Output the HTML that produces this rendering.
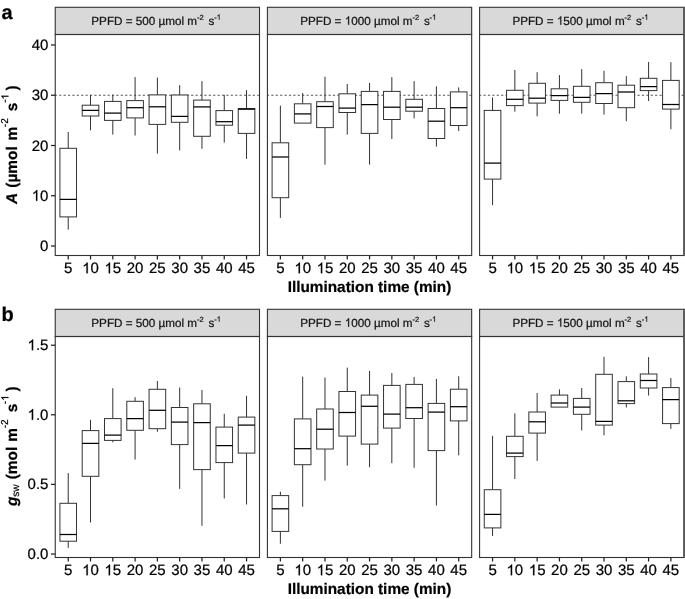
<!DOCTYPE html><html><head><meta charset="utf-8"><style>html,body{margin:0;padding:0;background:#fff;}svg{display:block;will-change:transform;}text{font-family:"Liberation Sans",sans-serif;white-space:pre;text-rendering:geometricPrecision;stroke:currentColor;stroke-width:0.22px;}</style></head><body>
<svg width="685" height="599" viewBox="0 0 685 599">
<rect x="0" y="0" width="685" height="599" fill="#fff"/>
<rect x="55.25" y="7.3" width="204.25" height="27.2" fill="#d9d9d9" stroke="#333333" stroke-width="1.1"/>
<text x="91.3" y="24.7" font-size="11.7" fill="#1a1a1a">PPFD = 500 µmol m</text>
<text x="196.99" y="19.7" font-size="7.5" fill="#1a1a1a">-2</text>
<text x="208.5" y="24.7" font-size="11.7" fill="#1a1a1a">s</text>
<text x="214.19" y="19.7" font-size="7.5" fill="#1a1a1a">- </text><path d="M763 0L583 0L583 1147Q518 1085 412.5 1023Q307 961 223 930L223 1104Q374 1175 486.5 1274.5Q599 1374 646 1466L763 1466Z" transform="translate(216.69,19.7) scale(0.003662,-0.003662)" fill="#1a1a1a" stroke="#1a1a1a" stroke-width="60.07"/>
<line x1="55.25" y1="95.2" x2="259.5" y2="95.2" stroke="#555" stroke-width="1.1" stroke-dasharray="2.2 2.2" stroke-dashoffset="0.5"/>
<line x1="68.22" y1="132" x2="68.22" y2="148.3" stroke="#333333" stroke-width="1"/>
<line x1="68.22" y1="216.9" x2="68.22" y2="229.7" stroke="#333333" stroke-width="1"/>
<rect x="59.92" y="148.3" width="16.6" height="68.6" fill="#fff" stroke="#333333" stroke-width="1"/>
<line x1="59.92" y1="199.4" x2="76.52" y2="199.4" stroke="#000" stroke-width="1.25"/>
<line x1="90.51" y1="94.9" x2="90.51" y2="105.2" stroke="#333333" stroke-width="1"/>
<line x1="90.51" y1="116" x2="90.51" y2="130.3" stroke="#333333" stroke-width="1"/>
<rect x="82.21" y="105.2" width="16.6" height="10.8" fill="#fff" stroke="#333333" stroke-width="1"/>
<line x1="82.21" y1="110.4" x2="98.81" y2="110.4" stroke="#000" stroke-width="1.25"/>
<line x1="112.8" y1="94.6" x2="112.8" y2="101.4" stroke="#333333" stroke-width="1"/>
<line x1="112.8" y1="120.4" x2="112.8" y2="134.6" stroke="#333333" stroke-width="1"/>
<rect x="104.5" y="101.4" width="16.6" height="19" fill="#fff" stroke="#333333" stroke-width="1"/>
<line x1="104.5" y1="113.1" x2="121.1" y2="113.1" stroke="#000" stroke-width="1.25"/>
<line x1="135.09" y1="77.1" x2="135.09" y2="100.6" stroke="#333333" stroke-width="1"/>
<line x1="135.09" y1="117.9" x2="135.09" y2="135.5" stroke="#333333" stroke-width="1"/>
<rect x="126.79" y="100.6" width="16.6" height="17.3" fill="#fff" stroke="#333333" stroke-width="1"/>
<line x1="126.79" y1="107.7" x2="143.39" y2="107.7" stroke="#000" stroke-width="1.25"/>
<line x1="157.38" y1="77.6" x2="157.38" y2="94.9" stroke="#333333" stroke-width="1"/>
<line x1="157.38" y1="124.4" x2="157.38" y2="153.6" stroke="#333333" stroke-width="1"/>
<rect x="149.08" y="94.9" width="16.6" height="29.5" fill="#fff" stroke="#333333" stroke-width="1"/>
<line x1="149.08" y1="106.8" x2="165.68" y2="106.8" stroke="#000" stroke-width="1.25"/>
<line x1="179.67" y1="85.1" x2="179.67" y2="95" stroke="#333333" stroke-width="1"/>
<line x1="179.67" y1="122.3" x2="179.67" y2="150.4" stroke="#333333" stroke-width="1"/>
<rect x="171.37" y="95" width="16.6" height="27.3" fill="#fff" stroke="#333333" stroke-width="1"/>
<line x1="171.37" y1="116.4" x2="187.97" y2="116.4" stroke="#000" stroke-width="1.25"/>
<line x1="201.96" y1="81.1" x2="201.96" y2="100.1" stroke="#333333" stroke-width="1"/>
<line x1="201.96" y1="136.3" x2="201.96" y2="148.8" stroke="#333333" stroke-width="1"/>
<rect x="193.66" y="100.1" width="16.6" height="36.2" fill="#fff" stroke="#333333" stroke-width="1"/>
<line x1="193.66" y1="106.9" x2="210.26" y2="106.9" stroke="#000" stroke-width="1.25"/>
<line x1="224.25" y1="94.9" x2="224.25" y2="110.6" stroke="#333333" stroke-width="1"/>
<line x1="224.25" y1="125.2" x2="224.25" y2="142.6" stroke="#333333" stroke-width="1"/>
<rect x="215.95" y="110.6" width="16.6" height="14.6" fill="#fff" stroke="#333333" stroke-width="1"/>
<line x1="215.95" y1="121.7" x2="232.55" y2="121.7" stroke="#000" stroke-width="1.25"/>
<line x1="246.54" y1="90.1" x2="246.54" y2="108.5" stroke="#333333" stroke-width="1"/>
<line x1="246.54" y1="133.4" x2="246.54" y2="158.9" stroke="#333333" stroke-width="1"/>
<rect x="238.24" y="108.5" width="16.6" height="24.9" fill="#fff" stroke="#333333" stroke-width="1"/>
<line x1="238.24" y1="109.2" x2="254.84" y2="109.2" stroke="#000" stroke-width="1.25"/>
<rect x="55.25" y="34.5" width="204.25" height="221" fill="none" stroke="#333333" stroke-width="1.1"/>
<line x1="68.22" y1="255.5" x2="68.22" y2="259.5" stroke="#222" stroke-width="1.25"/>
<text x="64.05" y="273.3" font-size="15" fill="#000">5</text>
<line x1="90.51" y1="255.5" x2="90.51" y2="259.5" stroke="#222" stroke-width="1.25"/>
<text x="82.17" y="273.3" font-size="15" fill="#000"> 0</text><path d="M763 0L583 0L583 1147Q518 1085 412.5 1023Q307 961 223 930L223 1104Q374 1175 486.5 1274.5Q599 1374 646 1466L763 1466Z" transform="translate(82.17,273.3) scale(0.007324,-0.007324)" fill="#000" stroke="#000" stroke-width="30.04"/>
<line x1="112.8" y1="255.5" x2="112.8" y2="259.5" stroke="#222" stroke-width="1.25"/>
<text x="104.46" y="273.3" font-size="15" fill="#000"> 5</text><path d="M763 0L583 0L583 1147Q518 1085 412.5 1023Q307 961 223 930L223 1104Q374 1175 486.5 1274.5Q599 1374 646 1466L763 1466Z" transform="translate(104.46,273.3) scale(0.007324,-0.007324)" fill="#000" stroke="#000" stroke-width="30.04"/>
<line x1="135.09" y1="255.5" x2="135.09" y2="259.5" stroke="#222" stroke-width="1.25"/>
<text x="126.75" y="273.3" font-size="15" fill="#000">20</text>
<line x1="157.38" y1="255.5" x2="157.38" y2="259.5" stroke="#222" stroke-width="1.25"/>
<text x="149.04" y="273.3" font-size="15" fill="#000">25</text>
<line x1="179.67" y1="255.5" x2="179.67" y2="259.5" stroke="#222" stroke-width="1.25"/>
<text x="171.33" y="273.3" font-size="15" fill="#000">30</text>
<line x1="201.96" y1="255.5" x2="201.96" y2="259.5" stroke="#222" stroke-width="1.25"/>
<text x="193.62" y="273.3" font-size="15" fill="#000">35</text>
<line x1="224.25" y1="255.5" x2="224.25" y2="259.5" stroke="#222" stroke-width="1.25"/>
<text x="215.91" y="273.3" font-size="15" fill="#000">40</text>
<line x1="246.54" y1="255.5" x2="246.54" y2="259.5" stroke="#222" stroke-width="1.25"/>
<text x="238.2" y="273.3" font-size="15" fill="#000">45</text>
<rect x="267.42" y="7.3" width="204.25" height="27.2" fill="#d9d9d9" stroke="#333333" stroke-width="1.1"/>
<text x="300.21" y="24.7" font-size="11.7" fill="#1a1a1a">PPFD =  000 µmol m</text><path d="M763 0L583 0L583 1147Q518 1085 412.5 1023Q307 961 223 930L223 1104Q374 1175 486.5 1274.5Q599 1374 646 1466L763 1466Z" transform="translate(344.75,24.7) scale(0.005713,-0.005713)" fill="#1a1a1a" stroke="#1a1a1a" stroke-width="38.51"/>
<text x="412.41" y="19.7" font-size="7.5" fill="#1a1a1a">-2</text>
<text x="423.92" y="24.7" font-size="11.7" fill="#1a1a1a">s</text>
<text x="429.61" y="19.7" font-size="7.5" fill="#1a1a1a">- </text><path d="M763 0L583 0L583 1147Q518 1085 412.5 1023Q307 961 223 930L223 1104Q374 1175 486.5 1274.5Q599 1374 646 1466L763 1466Z" transform="translate(432.11,19.7) scale(0.003662,-0.003662)" fill="#1a1a1a" stroke="#1a1a1a" stroke-width="60.07"/>
<line x1="267.42" y1="95.2" x2="471.67" y2="95.2" stroke="#555" stroke-width="1.1" stroke-dasharray="2.2 2.2" stroke-dashoffset="0.5"/>
<line x1="280.39" y1="105.6" x2="280.39" y2="142.8" stroke="#333333" stroke-width="1"/>
<line x1="280.39" y1="197.7" x2="280.39" y2="217.9" stroke="#333333" stroke-width="1"/>
<rect x="272.09" y="142.8" width="16.6" height="54.9" fill="#fff" stroke="#333333" stroke-width="1"/>
<line x1="272.09" y1="157" x2="288.69" y2="157" stroke="#000" stroke-width="1.25"/>
<line x1="302.68" y1="93" x2="302.68" y2="103.8" stroke="#333333" stroke-width="1"/>
<line x1="302.68" y1="123.1" x2="302.68" y2="123.1" stroke="#333333" stroke-width="1"/>
<rect x="294.38" y="103.8" width="16.6" height="19.3" fill="#fff" stroke="#333333" stroke-width="1"/>
<line x1="294.38" y1="113.9" x2="310.98" y2="113.9" stroke="#000" stroke-width="1.25"/>
<line x1="324.97" y1="76.7" x2="324.97" y2="101.7" stroke="#333333" stroke-width="1"/>
<line x1="324.97" y1="127.6" x2="324.97" y2="164.6" stroke="#333333" stroke-width="1"/>
<rect x="316.67" y="101.7" width="16.6" height="25.9" fill="#fff" stroke="#333333" stroke-width="1"/>
<line x1="316.67" y1="106.5" x2="333.27" y2="106.5" stroke="#000" stroke-width="1.25"/>
<line x1="347.26" y1="84" x2="347.26" y2="93.8" stroke="#333333" stroke-width="1"/>
<line x1="347.26" y1="112.5" x2="347.26" y2="134.6" stroke="#333333" stroke-width="1"/>
<rect x="338.96" y="93.8" width="16.6" height="18.7" fill="#fff" stroke="#333333" stroke-width="1"/>
<line x1="338.96" y1="108.1" x2="355.56" y2="108.1" stroke="#000" stroke-width="1.25"/>
<line x1="369.55" y1="83" x2="369.55" y2="91.4" stroke="#333333" stroke-width="1"/>
<line x1="369.55" y1="133.4" x2="369.55" y2="164.6" stroke="#333333" stroke-width="1"/>
<rect x="361.25" y="91.4" width="16.6" height="42" fill="#fff" stroke="#333333" stroke-width="1"/>
<line x1="361.25" y1="104.6" x2="377.85" y2="104.6" stroke="#000" stroke-width="1.25"/>
<line x1="391.84" y1="77.1" x2="391.84" y2="91.4" stroke="#333333" stroke-width="1"/>
<line x1="391.84" y1="119.5" x2="391.84" y2="139" stroke="#333333" stroke-width="1"/>
<rect x="383.54" y="91.4" width="16.6" height="28.1" fill="#fff" stroke="#333333" stroke-width="1"/>
<line x1="383.54" y1="107.2" x2="400.14" y2="107.2" stroke="#000" stroke-width="1.25"/>
<line x1="414.13" y1="81.1" x2="414.13" y2="99.3" stroke="#333333" stroke-width="1"/>
<line x1="414.13" y1="111.2" x2="414.13" y2="118.3" stroke="#333333" stroke-width="1"/>
<rect x="405.83" y="99.3" width="16.6" height="11.9" fill="#fff" stroke="#333333" stroke-width="1"/>
<line x1="405.83" y1="107.2" x2="422.43" y2="107.2" stroke="#000" stroke-width="1.25"/>
<line x1="436.42" y1="86.3" x2="436.42" y2="108.5" stroke="#333333" stroke-width="1"/>
<line x1="436.42" y1="138.5" x2="436.42" y2="146.6" stroke="#333333" stroke-width="1"/>
<rect x="428.12" y="108.5" width="16.6" height="30" fill="#fff" stroke="#333333" stroke-width="1"/>
<line x1="428.12" y1="121.2" x2="444.72" y2="121.2" stroke="#000" stroke-width="1.25"/>
<line x1="458.71" y1="87.4" x2="458.71" y2="91.9" stroke="#333333" stroke-width="1"/>
<line x1="458.71" y1="125.5" x2="458.71" y2="131" stroke="#333333" stroke-width="1"/>
<rect x="450.41" y="91.9" width="16.6" height="33.6" fill="#fff" stroke="#333333" stroke-width="1"/>
<line x1="450.41" y1="107.7" x2="467.01" y2="107.7" stroke="#000" stroke-width="1.25"/>
<rect x="267.42" y="34.5" width="204.25" height="221" fill="none" stroke="#333333" stroke-width="1.1"/>
<line x1="280.39" y1="255.5" x2="280.39" y2="259.5" stroke="#222" stroke-width="1.25"/>
<text x="276.22" y="273.3" font-size="15" fill="#000">5</text>
<line x1="302.68" y1="255.5" x2="302.68" y2="259.5" stroke="#222" stroke-width="1.25"/>
<text x="294.34" y="273.3" font-size="15" fill="#000"> 0</text><path d="M763 0L583 0L583 1147Q518 1085 412.5 1023Q307 961 223 930L223 1104Q374 1175 486.5 1274.5Q599 1374 646 1466L763 1466Z" transform="translate(294.34,273.3) scale(0.007324,-0.007324)" fill="#000" stroke="#000" stroke-width="30.04"/>
<line x1="324.97" y1="255.5" x2="324.97" y2="259.5" stroke="#222" stroke-width="1.25"/>
<text x="316.63" y="273.3" font-size="15" fill="#000"> 5</text><path d="M763 0L583 0L583 1147Q518 1085 412.5 1023Q307 961 223 930L223 1104Q374 1175 486.5 1274.5Q599 1374 646 1466L763 1466Z" transform="translate(316.63,273.3) scale(0.007324,-0.007324)" fill="#000" stroke="#000" stroke-width="30.04"/>
<line x1="347.26" y1="255.5" x2="347.26" y2="259.5" stroke="#222" stroke-width="1.25"/>
<text x="338.92" y="273.3" font-size="15" fill="#000">20</text>
<line x1="369.55" y1="255.5" x2="369.55" y2="259.5" stroke="#222" stroke-width="1.25"/>
<text x="361.21" y="273.3" font-size="15" fill="#000">25</text>
<line x1="391.84" y1="255.5" x2="391.84" y2="259.5" stroke="#222" stroke-width="1.25"/>
<text x="383.5" y="273.3" font-size="15" fill="#000">30</text>
<line x1="414.13" y1="255.5" x2="414.13" y2="259.5" stroke="#222" stroke-width="1.25"/>
<text x="405.79" y="273.3" font-size="15" fill="#000">35</text>
<line x1="436.42" y1="255.5" x2="436.42" y2="259.5" stroke="#222" stroke-width="1.25"/>
<text x="428.08" y="273.3" font-size="15" fill="#000">40</text>
<line x1="458.71" y1="255.5" x2="458.71" y2="259.5" stroke="#222" stroke-width="1.25"/>
<text x="450.37" y="273.3" font-size="15" fill="#000">45</text>
<rect x="479.59" y="7.3" width="204.25" height="27.2" fill="#d9d9d9" stroke="#333333" stroke-width="1.1"/>
<text x="512.38" y="24.7" font-size="11.7" fill="#1a1a1a">PPFD =  500 µmol m</text><path d="M763 0L583 0L583 1147Q518 1085 412.5 1023Q307 961 223 930L223 1104Q374 1175 486.5 1274.5Q599 1374 646 1466L763 1466Z" transform="translate(556.92,24.7) scale(0.005713,-0.005713)" fill="#1a1a1a" stroke="#1a1a1a" stroke-width="38.51"/>
<text x="624.58" y="19.7" font-size="7.5" fill="#1a1a1a">-2</text>
<text x="636.09" y="24.7" font-size="11.7" fill="#1a1a1a">s</text>
<text x="641.78" y="19.7" font-size="7.5" fill="#1a1a1a">- </text><path d="M763 0L583 0L583 1147Q518 1085 412.5 1023Q307 961 223 930L223 1104Q374 1175 486.5 1274.5Q599 1374 646 1466L763 1466Z" transform="translate(644.28,19.7) scale(0.003662,-0.003662)" fill="#1a1a1a" stroke="#1a1a1a" stroke-width="60.07"/>
<line x1="479.59" y1="95.2" x2="683.84" y2="95.2" stroke="#555" stroke-width="1.1" stroke-dasharray="2.2 2.2" stroke-dashoffset="0.5"/>
<line x1="492.56" y1="97.4" x2="492.56" y2="110.4" stroke="#333333" stroke-width="1"/>
<line x1="492.56" y1="179.1" x2="492.56" y2="205.2" stroke="#333333" stroke-width="1"/>
<rect x="484.26" y="110.4" width="16.6" height="68.7" fill="#fff" stroke="#333333" stroke-width="1"/>
<line x1="484.26" y1="163.1" x2="500.86" y2="163.1" stroke="#000" stroke-width="1.25"/>
<line x1="514.85" y1="70" x2="514.85" y2="90.3" stroke="#333333" stroke-width="1"/>
<line x1="514.85" y1="105.6" x2="514.85" y2="111.7" stroke="#333333" stroke-width="1"/>
<rect x="506.55" y="90.3" width="16.6" height="15.3" fill="#fff" stroke="#333333" stroke-width="1"/>
<line x1="506.55" y1="99.3" x2="523.15" y2="99.3" stroke="#000" stroke-width="1.25"/>
<line x1="537.14" y1="72.2" x2="537.14" y2="83.3" stroke="#333333" stroke-width="1"/>
<line x1="537.14" y1="103.1" x2="537.14" y2="116.4" stroke="#333333" stroke-width="1"/>
<rect x="528.84" y="83.3" width="16.6" height="19.8" fill="#fff" stroke="#333333" stroke-width="1"/>
<line x1="528.84" y1="98.2" x2="545.44" y2="98.2" stroke="#000" stroke-width="1.25"/>
<line x1="559.43" y1="75.1" x2="559.43" y2="88.8" stroke="#333333" stroke-width="1"/>
<line x1="559.43" y1="100.4" x2="559.43" y2="113.7" stroke="#333333" stroke-width="1"/>
<rect x="551.13" y="88.8" width="16.6" height="11.6" fill="#fff" stroke="#333333" stroke-width="1"/>
<line x1="551.13" y1="95.6" x2="567.73" y2="95.6" stroke="#000" stroke-width="1.25"/>
<line x1="581.72" y1="69.1" x2="581.72" y2="86.3" stroke="#333333" stroke-width="1"/>
<line x1="581.72" y1="102.3" x2="581.72" y2="113.7" stroke="#333333" stroke-width="1"/>
<rect x="573.42" y="86.3" width="16.6" height="16" fill="#fff" stroke="#333333" stroke-width="1"/>
<line x1="573.42" y1="97.4" x2="590.02" y2="97.4" stroke="#000" stroke-width="1.25"/>
<line x1="604.01" y1="70.7" x2="604.01" y2="82.7" stroke="#333333" stroke-width="1"/>
<line x1="604.01" y1="103.5" x2="604.01" y2="114.6" stroke="#333333" stroke-width="1"/>
<rect x="595.71" y="82.7" width="16.6" height="20.8" fill="#fff" stroke="#333333" stroke-width="1"/>
<line x1="595.71" y1="93.6" x2="612.31" y2="93.6" stroke="#000" stroke-width="1.25"/>
<line x1="626.3" y1="76.1" x2="626.3" y2="85.2" stroke="#333333" stroke-width="1"/>
<line x1="626.3" y1="107.7" x2="626.3" y2="121.2" stroke="#333333" stroke-width="1"/>
<rect x="618" y="85.2" width="16.6" height="22.5" fill="#fff" stroke="#333333" stroke-width="1"/>
<line x1="618" y1="92" x2="634.6" y2="92" stroke="#000" stroke-width="1.25"/>
<line x1="648.59" y1="61.9" x2="648.59" y2="78.3" stroke="#333333" stroke-width="1"/>
<line x1="648.59" y1="90.6" x2="648.59" y2="101" stroke="#333333" stroke-width="1"/>
<rect x="640.29" y="78.3" width="16.6" height="12.3" fill="#fff" stroke="#333333" stroke-width="1"/>
<line x1="640.29" y1="86.6" x2="656.89" y2="86.6" stroke="#000" stroke-width="1.25"/>
<line x1="670.88" y1="62.2" x2="670.88" y2="80.4" stroke="#333333" stroke-width="1"/>
<line x1="670.88" y1="109.1" x2="670.88" y2="129.2" stroke="#333333" stroke-width="1"/>
<rect x="662.58" y="80.4" width="16.6" height="28.7" fill="#fff" stroke="#333333" stroke-width="1"/>
<line x1="662.58" y1="104.5" x2="679.18" y2="104.5" stroke="#000" stroke-width="1.25"/>
<rect x="479.59" y="34.5" width="204.25" height="221" fill="none" stroke="#333333" stroke-width="1.1"/>
<line x1="492.56" y1="255.5" x2="492.56" y2="259.5" stroke="#222" stroke-width="1.25"/>
<text x="488.39" y="273.3" font-size="15" fill="#000">5</text>
<line x1="514.85" y1="255.5" x2="514.85" y2="259.5" stroke="#222" stroke-width="1.25"/>
<text x="506.51" y="273.3" font-size="15" fill="#000"> 0</text><path d="M763 0L583 0L583 1147Q518 1085 412.5 1023Q307 961 223 930L223 1104Q374 1175 486.5 1274.5Q599 1374 646 1466L763 1466Z" transform="translate(506.51,273.3) scale(0.007324,-0.007324)" fill="#000" stroke="#000" stroke-width="30.04"/>
<line x1="537.14" y1="255.5" x2="537.14" y2="259.5" stroke="#222" stroke-width="1.25"/>
<text x="528.8" y="273.3" font-size="15" fill="#000"> 5</text><path d="M763 0L583 0L583 1147Q518 1085 412.5 1023Q307 961 223 930L223 1104Q374 1175 486.5 1274.5Q599 1374 646 1466L763 1466Z" transform="translate(528.8,273.3) scale(0.007324,-0.007324)" fill="#000" stroke="#000" stroke-width="30.04"/>
<line x1="559.43" y1="255.5" x2="559.43" y2="259.5" stroke="#222" stroke-width="1.25"/>
<text x="551.09" y="273.3" font-size="15" fill="#000">20</text>
<line x1="581.72" y1="255.5" x2="581.72" y2="259.5" stroke="#222" stroke-width="1.25"/>
<text x="573.38" y="273.3" font-size="15" fill="#000">25</text>
<line x1="604.01" y1="255.5" x2="604.01" y2="259.5" stroke="#222" stroke-width="1.25"/>
<text x="595.67" y="273.3" font-size="15" fill="#000">30</text>
<line x1="626.3" y1="255.5" x2="626.3" y2="259.5" stroke="#222" stroke-width="1.25"/>
<text x="617.96" y="273.3" font-size="15" fill="#000">35</text>
<line x1="648.59" y1="255.5" x2="648.59" y2="259.5" stroke="#222" stroke-width="1.25"/>
<text x="640.25" y="273.3" font-size="15" fill="#000">40</text>
<line x1="670.88" y1="255.5" x2="670.88" y2="259.5" stroke="#222" stroke-width="1.25"/>
<text x="662.54" y="273.3" font-size="15" fill="#000">45</text>
<line x1="51" y1="246" x2="55.25" y2="246" stroke="#222" stroke-width="1.25"/>
<text x="40.06" y="251" font-size="15" fill="#000">0</text>
<line x1="51" y1="195.75" x2="55.25" y2="195.75" stroke="#222" stroke-width="1.25"/>
<text x="31.72" y="200.75" font-size="15" fill="#000"> 0</text><path d="M763 0L583 0L583 1147Q518 1085 412.5 1023Q307 961 223 930L223 1104Q374 1175 486.5 1274.5Q599 1374 646 1466L763 1466Z" transform="translate(31.72,200.75) scale(0.007324,-0.007324)" fill="#000" stroke="#000" stroke-width="30.04"/>
<line x1="51" y1="145.5" x2="55.25" y2="145.5" stroke="#222" stroke-width="1.25"/>
<text x="31.72" y="150.5" font-size="15" fill="#000">20</text>
<line x1="51" y1="95.25" x2="55.25" y2="95.25" stroke="#222" stroke-width="1.25"/>
<text x="31.72" y="100.25" font-size="15" fill="#000">30</text>
<line x1="51" y1="45" x2="55.25" y2="45" stroke="#222" stroke-width="1.25"/>
<text x="31.72" y="50" font-size="15" fill="#000">40</text>
<text x="369.5" y="291.6" font-size="15.35" font-weight="bold" text-anchor="middle" fill="#000">Illumination time (min)</text>
<g transform="translate(16.6,203.88) rotate(-90)"><text x="0" y="0" font-size="15.4" font-weight="bold" font-style="italic" fill="#000">A</text></g>
<g transform="translate(16.6,187.67) rotate(-90)"><text x="0" y="0" font-size="15.4" font-weight="bold" fill="#000">(µmol</text></g>
<g transform="translate(16.6,140.42) rotate(-90)"><text x="0" y="0" font-size="15.4" font-weight="bold" fill="#000">m</text></g>
<g transform="translate(8.4,127.14) rotate(-90)"><text x="0" y="0" font-size="10" fill="#000">-2</text></g>
<g transform="translate(16.6,111.24) rotate(-90)"><text x="0" y="0" font-size="15.4" font-weight="bold" fill="#000">s</text></g>
<g transform="translate(8.4,102.84) rotate(-90)"><text x="0" y="0" font-size="10" fill="#000">- </text><path d="M763 0L583 0L583 1147Q518 1085 412.5 1023Q307 961 223 930L223 1104Q374 1175 486.5 1274.5Q599 1374 646 1466L763 1466Z" transform="translate(3.33,0) scale(0.004883,-0.004883)" fill="#000" stroke="#000" stroke-width="45.06"/></g>
<g transform="translate(16.6,90.42) rotate(-90)"><text x="0" y="0" font-size="15.4" font-weight="bold" fill="#000">)</text></g>
<text x="1.51" y="19.4" font-size="20" font-weight="bold" fill="#000">a</text>
<rect x="55.25" y="309.3" width="204.25" height="27.2" fill="#d9d9d9" stroke="#333333" stroke-width="1.1"/>
<text x="91.3" y="326.7" font-size="11.7" fill="#1a1a1a">PPFD = 500 µmol m</text>
<text x="196.99" y="321.7" font-size="7.5" fill="#1a1a1a">-2</text>
<text x="208.5" y="326.7" font-size="11.7" fill="#1a1a1a">s</text>
<text x="214.19" y="321.7" font-size="7.5" fill="#1a1a1a">- </text><path d="M763 0L583 0L583 1147Q518 1085 412.5 1023Q307 961 223 930L223 1104Q374 1175 486.5 1274.5Q599 1374 646 1466L763 1466Z" transform="translate(216.69,321.7) scale(0.003662,-0.003662)" fill="#1a1a1a" stroke="#1a1a1a" stroke-width="60.07"/>
<line x1="68.22" y1="473.1" x2="68.22" y2="503.3" stroke="#333333" stroke-width="1"/>
<line x1="68.22" y1="541.2" x2="68.22" y2="547.9" stroke="#333333" stroke-width="1"/>
<rect x="59.92" y="503.3" width="16.6" height="37.9" fill="#fff" stroke="#333333" stroke-width="1"/>
<line x1="59.92" y1="534.5" x2="76.52" y2="534.5" stroke="#000" stroke-width="1.25"/>
<line x1="90.51" y1="419.8" x2="90.51" y2="430.6" stroke="#333333" stroke-width="1"/>
<line x1="90.51" y1="476.3" x2="90.51" y2="522.5" stroke="#333333" stroke-width="1"/>
<rect x="82.21" y="430.6" width="16.6" height="45.7" fill="#fff" stroke="#333333" stroke-width="1"/>
<line x1="82.21" y1="443.4" x2="98.81" y2="443.4" stroke="#000" stroke-width="1.25"/>
<line x1="112.8" y1="388.2" x2="112.8" y2="418.6" stroke="#333333" stroke-width="1"/>
<line x1="112.8" y1="440.4" x2="112.8" y2="442.3" stroke="#333333" stroke-width="1"/>
<rect x="104.5" y="418.6" width="16.6" height="21.8" fill="#fff" stroke="#333333" stroke-width="1"/>
<line x1="104.5" y1="435.1" x2="121.1" y2="435.1" stroke="#000" stroke-width="1.25"/>
<line x1="135.09" y1="397.2" x2="135.09" y2="401.3" stroke="#333333" stroke-width="1"/>
<line x1="135.09" y1="430.3" x2="135.09" y2="459.6" stroke="#333333" stroke-width="1"/>
<rect x="126.79" y="401.3" width="16.6" height="29" fill="#fff" stroke="#333333" stroke-width="1"/>
<line x1="126.79" y1="418.6" x2="143.39" y2="418.6" stroke="#000" stroke-width="1.25"/>
<line x1="157.38" y1="381" x2="157.38" y2="389.3" stroke="#333333" stroke-width="1"/>
<line x1="157.38" y1="428.7" x2="157.38" y2="431.8" stroke="#333333" stroke-width="1"/>
<rect x="149.08" y="389.3" width="16.6" height="39.4" fill="#fff" stroke="#333333" stroke-width="1"/>
<line x1="149.08" y1="410.3" x2="165.68" y2="410.3" stroke="#000" stroke-width="1.25"/>
<line x1="179.67" y1="387.5" x2="179.67" y2="407.5" stroke="#333333" stroke-width="1"/>
<line x1="179.67" y1="444.6" x2="179.67" y2="488.9" stroke="#333333" stroke-width="1"/>
<rect x="171.37" y="407.5" width="16.6" height="37.1" fill="#fff" stroke="#333333" stroke-width="1"/>
<line x1="171.37" y1="422.1" x2="187.97" y2="422.1" stroke="#000" stroke-width="1.25"/>
<line x1="201.96" y1="390" x2="201.96" y2="403.8" stroke="#333333" stroke-width="1"/>
<line x1="201.96" y1="469.6" x2="201.96" y2="525.8" stroke="#333333" stroke-width="1"/>
<rect x="193.66" y="403.8" width="16.6" height="65.8" fill="#fff" stroke="#333333" stroke-width="1"/>
<line x1="193.66" y1="422.6" x2="210.26" y2="422.6" stroke="#000" stroke-width="1.25"/>
<line x1="224.25" y1="413.8" x2="224.25" y2="427.1" stroke="#333333" stroke-width="1"/>
<line x1="224.25" y1="462.6" x2="224.25" y2="498.5" stroke="#333333" stroke-width="1"/>
<rect x="215.95" y="427.1" width="16.6" height="35.5" fill="#fff" stroke="#333333" stroke-width="1"/>
<line x1="215.95" y1="445.6" x2="232.55" y2="445.6" stroke="#000" stroke-width="1.25"/>
<line x1="246.54" y1="395.8" x2="246.54" y2="417.1" stroke="#333333" stroke-width="1"/>
<line x1="246.54" y1="453.1" x2="246.54" y2="504.5" stroke="#333333" stroke-width="1"/>
<rect x="238.24" y="417.1" width="16.6" height="36" fill="#fff" stroke="#333333" stroke-width="1"/>
<line x1="238.24" y1="425.1" x2="254.84" y2="425.1" stroke="#000" stroke-width="1.25"/>
<rect x="55.25" y="336.5" width="204.25" height="221" fill="none" stroke="#333333" stroke-width="1.1"/>
<line x1="68.22" y1="557.5" x2="68.22" y2="561.5" stroke="#222" stroke-width="1.25"/>
<text x="64.05" y="575.3" font-size="15" fill="#000">5</text>
<line x1="90.51" y1="557.5" x2="90.51" y2="561.5" stroke="#222" stroke-width="1.25"/>
<text x="82.17" y="575.3" font-size="15" fill="#000"> 0</text><path d="M763 0L583 0L583 1147Q518 1085 412.5 1023Q307 961 223 930L223 1104Q374 1175 486.5 1274.5Q599 1374 646 1466L763 1466Z" transform="translate(82.17,575.3) scale(0.007324,-0.007324)" fill="#000" stroke="#000" stroke-width="30.04"/>
<line x1="112.8" y1="557.5" x2="112.8" y2="561.5" stroke="#222" stroke-width="1.25"/>
<text x="104.46" y="575.3" font-size="15" fill="#000"> 5</text><path d="M763 0L583 0L583 1147Q518 1085 412.5 1023Q307 961 223 930L223 1104Q374 1175 486.5 1274.5Q599 1374 646 1466L763 1466Z" transform="translate(104.46,575.3) scale(0.007324,-0.007324)" fill="#000" stroke="#000" stroke-width="30.04"/>
<line x1="135.09" y1="557.5" x2="135.09" y2="561.5" stroke="#222" stroke-width="1.25"/>
<text x="126.75" y="575.3" font-size="15" fill="#000">20</text>
<line x1="157.38" y1="557.5" x2="157.38" y2="561.5" stroke="#222" stroke-width="1.25"/>
<text x="149.04" y="575.3" font-size="15" fill="#000">25</text>
<line x1="179.67" y1="557.5" x2="179.67" y2="561.5" stroke="#222" stroke-width="1.25"/>
<text x="171.33" y="575.3" font-size="15" fill="#000">30</text>
<line x1="201.96" y1="557.5" x2="201.96" y2="561.5" stroke="#222" stroke-width="1.25"/>
<text x="193.62" y="575.3" font-size="15" fill="#000">35</text>
<line x1="224.25" y1="557.5" x2="224.25" y2="561.5" stroke="#222" stroke-width="1.25"/>
<text x="215.91" y="575.3" font-size="15" fill="#000">40</text>
<line x1="246.54" y1="557.5" x2="246.54" y2="561.5" stroke="#222" stroke-width="1.25"/>
<text x="238.2" y="575.3" font-size="15" fill="#000">45</text>
<rect x="267.42" y="309.3" width="204.25" height="27.2" fill="#d9d9d9" stroke="#333333" stroke-width="1.1"/>
<text x="300.21" y="326.7" font-size="11.7" fill="#1a1a1a">PPFD =  000 µmol m</text><path d="M763 0L583 0L583 1147Q518 1085 412.5 1023Q307 961 223 930L223 1104Q374 1175 486.5 1274.5Q599 1374 646 1466L763 1466Z" transform="translate(344.75,326.7) scale(0.005713,-0.005713)" fill="#1a1a1a" stroke="#1a1a1a" stroke-width="38.51"/>
<text x="412.41" y="321.7" font-size="7.5" fill="#1a1a1a">-2</text>
<text x="423.92" y="326.7" font-size="11.7" fill="#1a1a1a">s</text>
<text x="429.61" y="321.7" font-size="7.5" fill="#1a1a1a">- </text><path d="M763 0L583 0L583 1147Q518 1085 412.5 1023Q307 961 223 930L223 1104Q374 1175 486.5 1274.5Q599 1374 646 1466L763 1466Z" transform="translate(432.11,321.7) scale(0.003662,-0.003662)" fill="#1a1a1a" stroke="#1a1a1a" stroke-width="60.07"/>
<line x1="280.39" y1="491.7" x2="280.39" y2="495.6" stroke="#333333" stroke-width="1"/>
<line x1="280.39" y1="531.4" x2="280.39" y2="543.7" stroke="#333333" stroke-width="1"/>
<rect x="272.09" y="495.6" width="16.6" height="35.8" fill="#fff" stroke="#333333" stroke-width="1"/>
<line x1="272.09" y1="508.8" x2="288.69" y2="508.8" stroke="#000" stroke-width="1.25"/>
<line x1="302.68" y1="376.6" x2="302.68" y2="418.9" stroke="#333333" stroke-width="1"/>
<line x1="302.68" y1="464.7" x2="302.68" y2="506.7" stroke="#333333" stroke-width="1"/>
<rect x="294.38" y="418.9" width="16.6" height="45.8" fill="#fff" stroke="#333333" stroke-width="1"/>
<line x1="294.38" y1="448.7" x2="310.98" y2="448.7" stroke="#000" stroke-width="1.25"/>
<line x1="324.97" y1="377.5" x2="324.97" y2="409" stroke="#333333" stroke-width="1"/>
<line x1="324.97" y1="449" x2="324.97" y2="480.6" stroke="#333333" stroke-width="1"/>
<rect x="316.67" y="409" width="16.6" height="40" fill="#fff" stroke="#333333" stroke-width="1"/>
<line x1="316.67" y1="429.2" x2="333.27" y2="429.2" stroke="#000" stroke-width="1.25"/>
<line x1="347.26" y1="367.6" x2="347.26" y2="391.5" stroke="#333333" stroke-width="1"/>
<line x1="347.26" y1="436.1" x2="347.26" y2="465.6" stroke="#333333" stroke-width="1"/>
<rect x="338.96" y="391.5" width="16.6" height="44.6" fill="#fff" stroke="#333333" stroke-width="1"/>
<line x1="338.96" y1="412.5" x2="355.56" y2="412.5" stroke="#000" stroke-width="1.25"/>
<line x1="369.55" y1="371" x2="369.55" y2="395.1" stroke="#333333" stroke-width="1"/>
<line x1="369.55" y1="444.1" x2="369.55" y2="467.2" stroke="#333333" stroke-width="1"/>
<rect x="361.25" y="395.1" width="16.6" height="49" fill="#fff" stroke="#333333" stroke-width="1"/>
<line x1="361.25" y1="406.3" x2="377.85" y2="406.3" stroke="#000" stroke-width="1.25"/>
<line x1="391.84" y1="373" x2="391.84" y2="385.4" stroke="#333333" stroke-width="1"/>
<line x1="391.84" y1="428.1" x2="391.84" y2="463.2" stroke="#333333" stroke-width="1"/>
<rect x="383.54" y="385.4" width="16.6" height="42.7" fill="#fff" stroke="#333333" stroke-width="1"/>
<line x1="383.54" y1="414.1" x2="400.14" y2="414.1" stroke="#000" stroke-width="1.25"/>
<line x1="414.13" y1="377" x2="414.13" y2="384.4" stroke="#333333" stroke-width="1"/>
<line x1="414.13" y1="418.5" x2="414.13" y2="467.8" stroke="#333333" stroke-width="1"/>
<rect x="405.83" y="384.4" width="16.6" height="34.1" fill="#fff" stroke="#333333" stroke-width="1"/>
<line x1="405.83" y1="407.7" x2="422.43" y2="407.7" stroke="#000" stroke-width="1.25"/>
<line x1="436.42" y1="378.9" x2="436.42" y2="403.4" stroke="#333333" stroke-width="1"/>
<line x1="436.42" y1="450.6" x2="436.42" y2="505.5" stroke="#333333" stroke-width="1"/>
<rect x="428.12" y="403.4" width="16.6" height="47.2" fill="#fff" stroke="#333333" stroke-width="1"/>
<line x1="428.12" y1="412.1" x2="444.72" y2="412.1" stroke="#000" stroke-width="1.25"/>
<line x1="458.71" y1="376.3" x2="458.71" y2="389.2" stroke="#333333" stroke-width="1"/>
<line x1="458.71" y1="420.9" x2="458.71" y2="455.3" stroke="#333333" stroke-width="1"/>
<rect x="450.41" y="389.2" width="16.6" height="31.7" fill="#fff" stroke="#333333" stroke-width="1"/>
<line x1="450.41" y1="406.7" x2="467.01" y2="406.7" stroke="#000" stroke-width="1.25"/>
<rect x="267.42" y="336.5" width="204.25" height="221" fill="none" stroke="#333333" stroke-width="1.1"/>
<line x1="280.39" y1="557.5" x2="280.39" y2="561.5" stroke="#222" stroke-width="1.25"/>
<text x="276.22" y="575.3" font-size="15" fill="#000">5</text>
<line x1="302.68" y1="557.5" x2="302.68" y2="561.5" stroke="#222" stroke-width="1.25"/>
<text x="294.34" y="575.3" font-size="15" fill="#000"> 0</text><path d="M763 0L583 0L583 1147Q518 1085 412.5 1023Q307 961 223 930L223 1104Q374 1175 486.5 1274.5Q599 1374 646 1466L763 1466Z" transform="translate(294.34,575.3) scale(0.007324,-0.007324)" fill="#000" stroke="#000" stroke-width="30.04"/>
<line x1="324.97" y1="557.5" x2="324.97" y2="561.5" stroke="#222" stroke-width="1.25"/>
<text x="316.63" y="575.3" font-size="15" fill="#000"> 5</text><path d="M763 0L583 0L583 1147Q518 1085 412.5 1023Q307 961 223 930L223 1104Q374 1175 486.5 1274.5Q599 1374 646 1466L763 1466Z" transform="translate(316.63,575.3) scale(0.007324,-0.007324)" fill="#000" stroke="#000" stroke-width="30.04"/>
<line x1="347.26" y1="557.5" x2="347.26" y2="561.5" stroke="#222" stroke-width="1.25"/>
<text x="338.92" y="575.3" font-size="15" fill="#000">20</text>
<line x1="369.55" y1="557.5" x2="369.55" y2="561.5" stroke="#222" stroke-width="1.25"/>
<text x="361.21" y="575.3" font-size="15" fill="#000">25</text>
<line x1="391.84" y1="557.5" x2="391.84" y2="561.5" stroke="#222" stroke-width="1.25"/>
<text x="383.5" y="575.3" font-size="15" fill="#000">30</text>
<line x1="414.13" y1="557.5" x2="414.13" y2="561.5" stroke="#222" stroke-width="1.25"/>
<text x="405.79" y="575.3" font-size="15" fill="#000">35</text>
<line x1="436.42" y1="557.5" x2="436.42" y2="561.5" stroke="#222" stroke-width="1.25"/>
<text x="428.08" y="575.3" font-size="15" fill="#000">40</text>
<line x1="458.71" y1="557.5" x2="458.71" y2="561.5" stroke="#222" stroke-width="1.25"/>
<text x="450.37" y="575.3" font-size="15" fill="#000">45</text>
<rect x="479.59" y="309.3" width="204.25" height="27.2" fill="#d9d9d9" stroke="#333333" stroke-width="1.1"/>
<text x="512.38" y="326.7" font-size="11.7" fill="#1a1a1a">PPFD =  500 µmol m</text><path d="M763 0L583 0L583 1147Q518 1085 412.5 1023Q307 961 223 930L223 1104Q374 1175 486.5 1274.5Q599 1374 646 1466L763 1466Z" transform="translate(556.92,326.7) scale(0.005713,-0.005713)" fill="#1a1a1a" stroke="#1a1a1a" stroke-width="38.51"/>
<text x="624.58" y="321.7" font-size="7.5" fill="#1a1a1a">-2</text>
<text x="636.09" y="326.7" font-size="11.7" fill="#1a1a1a">s</text>
<text x="641.78" y="321.7" font-size="7.5" fill="#1a1a1a">- </text><path d="M763 0L583 0L583 1147Q518 1085 412.5 1023Q307 961 223 930L223 1104Q374 1175 486.5 1274.5Q599 1374 646 1466L763 1466Z" transform="translate(644.28,321.7) scale(0.003662,-0.003662)" fill="#1a1a1a" stroke="#1a1a1a" stroke-width="60.07"/>
<line x1="492.56" y1="435.8" x2="492.56" y2="489.7" stroke="#333333" stroke-width="1"/>
<line x1="492.56" y1="527.9" x2="492.56" y2="536" stroke="#333333" stroke-width="1"/>
<rect x="484.26" y="489.7" width="16.6" height="38.2" fill="#fff" stroke="#333333" stroke-width="1"/>
<line x1="484.26" y1="514.4" x2="500.86" y2="514.4" stroke="#000" stroke-width="1.25"/>
<line x1="514.85" y1="413.3" x2="514.85" y2="436.3" stroke="#333333" stroke-width="1"/>
<line x1="514.85" y1="456.6" x2="514.85" y2="479" stroke="#333333" stroke-width="1"/>
<rect x="506.55" y="436.3" width="16.6" height="20.3" fill="#fff" stroke="#333333" stroke-width="1"/>
<line x1="506.55" y1="453.1" x2="523.15" y2="453.1" stroke="#000" stroke-width="1.25"/>
<line x1="537.14" y1="393" x2="537.14" y2="412" stroke="#333333" stroke-width="1"/>
<line x1="537.14" y1="433.1" x2="537.14" y2="460.9" stroke="#333333" stroke-width="1"/>
<rect x="528.84" y="412" width="16.6" height="21.1" fill="#fff" stroke="#333333" stroke-width="1"/>
<line x1="528.84" y1="421.8" x2="545.44" y2="421.8" stroke="#000" stroke-width="1.25"/>
<line x1="559.43" y1="389.4" x2="559.43" y2="395.1" stroke="#333333" stroke-width="1"/>
<line x1="559.43" y1="407.1" x2="559.43" y2="407.1" stroke="#333333" stroke-width="1"/>
<rect x="551.13" y="395.1" width="16.6" height="12" fill="#fff" stroke="#333333" stroke-width="1"/>
<line x1="551.13" y1="403" x2="567.73" y2="403" stroke="#000" stroke-width="1.25"/>
<line x1="581.72" y1="388" x2="581.72" y2="398.4" stroke="#333333" stroke-width="1"/>
<line x1="581.72" y1="414.3" x2="581.72" y2="430.4" stroke="#333333" stroke-width="1"/>
<rect x="573.42" y="398.4" width="16.6" height="15.9" fill="#fff" stroke="#333333" stroke-width="1"/>
<line x1="573.42" y1="407.1" x2="590.02" y2="407.1" stroke="#000" stroke-width="1.25"/>
<line x1="604.01" y1="356.8" x2="604.01" y2="374.3" stroke="#333333" stroke-width="1"/>
<line x1="604.01" y1="425.1" x2="604.01" y2="435.3" stroke="#333333" stroke-width="1"/>
<rect x="595.71" y="374.3" width="16.6" height="50.8" fill="#fff" stroke="#333333" stroke-width="1"/>
<line x1="595.71" y1="421.4" x2="612.31" y2="421.4" stroke="#000" stroke-width="1.25"/>
<line x1="626.3" y1="376.3" x2="626.3" y2="381.6" stroke="#333333" stroke-width="1"/>
<line x1="626.3" y1="403.6" x2="626.3" y2="407.5" stroke="#333333" stroke-width="1"/>
<rect x="618" y="381.6" width="16.6" height="22" fill="#fff" stroke="#333333" stroke-width="1"/>
<line x1="618" y1="400.8" x2="634.6" y2="400.8" stroke="#000" stroke-width="1.25"/>
<line x1="648.59" y1="357.1" x2="648.59" y2="374" stroke="#333333" stroke-width="1"/>
<line x1="648.59" y1="388" x2="648.59" y2="395.5" stroke="#333333" stroke-width="1"/>
<rect x="640.29" y="374" width="16.6" height="14" fill="#fff" stroke="#333333" stroke-width="1"/>
<line x1="640.29" y1="380.5" x2="656.89" y2="380.5" stroke="#000" stroke-width="1.25"/>
<line x1="670.88" y1="378.1" x2="670.88" y2="387.6" stroke="#333333" stroke-width="1"/>
<line x1="670.88" y1="423.6" x2="670.88" y2="428.9" stroke="#333333" stroke-width="1"/>
<rect x="662.58" y="387.6" width="16.6" height="36" fill="#fff" stroke="#333333" stroke-width="1"/>
<line x1="662.58" y1="399.6" x2="679.18" y2="399.6" stroke="#000" stroke-width="1.25"/>
<rect x="479.59" y="336.5" width="204.25" height="221" fill="none" stroke="#333333" stroke-width="1.1"/>
<line x1="492.56" y1="557.5" x2="492.56" y2="561.5" stroke="#222" stroke-width="1.25"/>
<text x="488.39" y="575.3" font-size="15" fill="#000">5</text>
<line x1="514.85" y1="557.5" x2="514.85" y2="561.5" stroke="#222" stroke-width="1.25"/>
<text x="506.51" y="575.3" font-size="15" fill="#000"> 0</text><path d="M763 0L583 0L583 1147Q518 1085 412.5 1023Q307 961 223 930L223 1104Q374 1175 486.5 1274.5Q599 1374 646 1466L763 1466Z" transform="translate(506.51,575.3) scale(0.007324,-0.007324)" fill="#000" stroke="#000" stroke-width="30.04"/>
<line x1="537.14" y1="557.5" x2="537.14" y2="561.5" stroke="#222" stroke-width="1.25"/>
<text x="528.8" y="575.3" font-size="15" fill="#000"> 5</text><path d="M763 0L583 0L583 1147Q518 1085 412.5 1023Q307 961 223 930L223 1104Q374 1175 486.5 1274.5Q599 1374 646 1466L763 1466Z" transform="translate(528.8,575.3) scale(0.007324,-0.007324)" fill="#000" stroke="#000" stroke-width="30.04"/>
<line x1="559.43" y1="557.5" x2="559.43" y2="561.5" stroke="#222" stroke-width="1.25"/>
<text x="551.09" y="575.3" font-size="15" fill="#000">20</text>
<line x1="581.72" y1="557.5" x2="581.72" y2="561.5" stroke="#222" stroke-width="1.25"/>
<text x="573.38" y="575.3" font-size="15" fill="#000">25</text>
<line x1="604.01" y1="557.5" x2="604.01" y2="561.5" stroke="#222" stroke-width="1.25"/>
<text x="595.67" y="575.3" font-size="15" fill="#000">30</text>
<line x1="626.3" y1="557.5" x2="626.3" y2="561.5" stroke="#222" stroke-width="1.25"/>
<text x="617.96" y="575.3" font-size="15" fill="#000">35</text>
<line x1="648.59" y1="557.5" x2="648.59" y2="561.5" stroke="#222" stroke-width="1.25"/>
<text x="640.25" y="575.3" font-size="15" fill="#000">40</text>
<line x1="670.88" y1="557.5" x2="670.88" y2="561.5" stroke="#222" stroke-width="1.25"/>
<text x="662.54" y="575.3" font-size="15" fill="#000">45</text>
<line x1="51" y1="554" x2="55.25" y2="554" stroke="#222" stroke-width="1.25"/>
<text x="27.55" y="559" font-size="15" fill="#000">0.0</text>
<line x1="51" y1="484.4" x2="55.25" y2="484.4" stroke="#222" stroke-width="1.25"/>
<text x="27.55" y="489.4" font-size="15" fill="#000">0.5</text>
<line x1="51" y1="414.8" x2="55.25" y2="414.8" stroke="#222" stroke-width="1.25"/>
<text x="27.55" y="419.8" font-size="15" fill="#000"> .0</text><path d="M763 0L583 0L583 1147Q518 1085 412.5 1023Q307 961 223 930L223 1104Q374 1175 486.5 1274.5Q599 1374 646 1466L763 1466Z" transform="translate(27.55,419.8) scale(0.007324,-0.007324)" fill="#000" stroke="#000" stroke-width="30.04"/>
<line x1="51" y1="345.2" x2="55.25" y2="345.2" stroke="#222" stroke-width="1.25"/>
<text x="27.55" y="350.2" font-size="15" fill="#000"> .5</text><path d="M763 0L583 0L583 1147Q518 1085 412.5 1023Q307 961 223 930L223 1104Q374 1175 486.5 1274.5Q599 1374 646 1466L763 1466Z" transform="translate(27.55,350.2) scale(0.007324,-0.007324)" fill="#000" stroke="#000" stroke-width="30.04"/>
<text x="369.5" y="593.6" font-size="15.35" font-weight="bold" text-anchor="middle" fill="#000">Illumination time (min)</text>
<g transform="translate(16.6,505.95) rotate(-90)"><text x="0" y="0" font-size="15.4" font-weight="bold" font-style="italic" fill="#000">g</text></g>
<g transform="translate(19.3,496.68) rotate(-90)"><text x="0" y="0" font-size="10" fill="#000">sw</text></g>
<g transform="translate(16.6,479.27) rotate(-90)"><text x="0" y="0" font-size="15.4" font-weight="bold" fill="#000">(mol</text></g>
<g transform="translate(16.6,441.72) rotate(-90)"><text x="0" y="0" font-size="15.4" font-weight="bold" fill="#000">m</text></g>
<g transform="translate(8.4,428.34) rotate(-90)"><text x="0" y="0" font-size="10" fill="#000">-2</text></g>
<g transform="translate(16.6,412.24) rotate(-90)"><text x="0" y="0" font-size="15.4" font-weight="bold" fill="#000">s</text></g>
<g transform="translate(8.4,404.14) rotate(-90)"><text x="0" y="0" font-size="10" fill="#000">- </text><path d="M763 0L583 0L583 1147Q518 1085 412.5 1023Q307 961 223 930L223 1104Q374 1175 486.5 1274.5Q599 1374 646 1466L763 1466Z" transform="translate(3.33,0) scale(0.004883,-0.004883)" fill="#000" stroke="#000" stroke-width="45.06"/></g>
<g transform="translate(16.6,391.62) rotate(-90)"><text x="0" y="0" font-size="15.4" font-weight="bold" fill="#000">)</text></g>
<text x="1.58" y="320.8" font-size="20" font-weight="bold" fill="#000">b</text>
<rect x="683.4" y="6.75" width="1.6" height="249.3" fill="#5c5c5c"/>
<rect x="683.4" y="308.75" width="1.6" height="249.3" fill="#5c5c5c"/>
</svg></body></html>
